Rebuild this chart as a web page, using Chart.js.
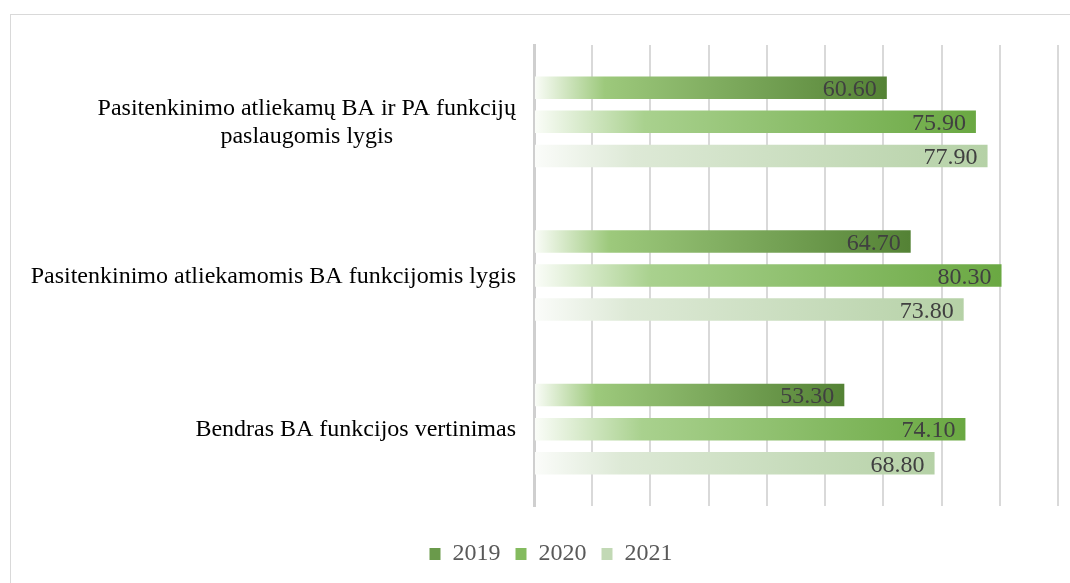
<!DOCTYPE html>
<html>
<head>
<meta charset="utf-8">
<script src="https://cdn.jsdelivr.net/npm/chart.js@4.4.0/dist/chart.umd.min.js"></script>
<style>
  html, body { margin: 0; padding: 0; background: #fff; overflow: hidden; }
  #frame { position: absolute; left: 10px; top: 14px; width: 1100px; height: 600px; border: 1px solid #d9d9d9; }
  #wrap { position: absolute; left: 11px; top: 15px; width: 1082px; height: 568px; }
</style>
</head>
<body>
<div id="frame"></div>
<div id="wrap"><canvas id="myChart"></canvas></div>
<script>
// categories, top to bottom
const categories = [
  ["Pasitenkinimo atliekamų BA ir PA funkcijų", "paslaugomis lygis"],
  "Pasitenkinimo atliekamomis BA funkcijomis lygis",
  "Bendras BA funkcijos vertinimas"
]
const years = ["2019", "2020", "2021"]
const values2019 = [60.6, 64.7, 53.3]
const values2020 = [75.9, 80.3, 74.1]
const values2021 = [77.9, 73.8, 68.8]

const serif = "'Liberation Serif', 'Times New Roman', serif"

// gradient stops per series (left -> right along each bar)
const stops2019 = [[0, "#fbfdf9"], [0.2, "#9dc97c"], [1, "#548235"]]
const stops2020 = [[0, "#fbfdf9"], [0.25, "#a9d18e"], [1, "#6aa842"]]
const stops2021 = [[0, "#fbfcfa"], [0.22, "#dde9d6"], [1, "#b5d1a6"]]
const legendColors = ["#6a9a4b", "#84bb5f", "#c2d9b5"]

const barFill = (stops, legendColor) => (ctx) => {
  const chart = ctx.chart
  if (!chart.chartArea || ctx.type !== "data") return legendColor
  const x = chart.scales.x
  const x0 = x.getPixelForValue(0)
  const x1 = x.getPixelForValue(ctx.raw)
  const g = chart.ctx.createLinearGradient(x0, 0, x1, 0)
  stops.forEach(s => g.addColorStop(s[0], s[1]))
  return g
}

// value labels, inside end of each bar
const valueLabels = {
  id: "valueLabels",
  afterDatasetsDraw(chart) {
    const ctx = chart.ctx
    ctx.save()
    ctx.font = "24px " + serif
    ctx.fillStyle = "#404040"
    ctx.textAlign = "right"
    ctx.textBaseline = "middle"
    chart.data.datasets.forEach((ds, i) => {
      chart.getDatasetMeta(i).data.forEach((bar, j) => {
        ctx.fillText(ds.data[j].toFixed(2), bar.x - 10, bar.y + 2)
      })
    })
    ctx.restore()
  }
}

// category labels: block right aligned to the axis, lines centred inside the block
const categoryLabels = {
  id: "categoryLabels",
  afterDraw(chart) {
    const ctx = chart.ctx
    const yScale = chart.scales.y
    const right = chart.chartArea.left - 18
    const lineH = 28
    ctx.save()
    ctx.font = "24px " + serif
    ctx.fillStyle = "#000"
    ctx.textBaseline = "middle"
    ctx.textAlign = "center"
    categories.forEach((cat, i) => {
      const lines = Array.isArray(cat) ? cat : [cat]
      const w = Math.max(...lines.map(l => ctx.measureText(l).width))
      const cx = right - w / 2
      const cy = yScale.getPixelForValue(i) + 1
      lines.forEach((l, k) => {
        ctx.fillText(l, cx, cy + (k - (lines.length - 1) / 2) * lineH)
      })
    })
    ctx.restore()
  }
}

new Chart("myChart", {
  type: "bar",
  data: {
    labels: categories,
    datasets: [
      { label: years[0], data: values2019, backgroundColor: barFill(stops2019, legendColors[0]) },
      { label: years[1], data: values2020, backgroundColor: barFill(stops2020, legendColors[1]) },
      { label: years[2], data: values2021, backgroundColor: barFill(stops2021, legendColors[2]) }
    ]
  },
  options: {
    indexAxis: "y",
    responsive: true,
    maintainAspectRatio: false,
    animation: false,
    categoryPercentage: 0.665,
    barPercentage: 0.66,
    layout: { padding: { left: 33, right: 35, top: 30, bottom: 7 } },
    scales: {
      x: {
        min: 0,
        max: 90,
        ticks: { display: false, stepSize: 10 },
        grid: { color: "#d9d9d9", lineWidth: 2, drawTicks: false },
        border: { display: false },
        afterFit(scale) { scale.height = 21 }
      },
      y: {
        ticks: { display: false },
        grid: { display: false },
        border: { display: true, color: "#cfcfcf", width: 3 },
        afterFit(scale) { scale.width = 490 }
      }
    },
    plugins: {
      legend: {
        position: "bottom",
        labels: {
          font: { family: serif, size: 24 },
          color: "#595959",
          boxWidth: 11,
          boxHeight: 12,
          padding: 15,
          generateLabels(chart) {
            const items = Chart.defaults.plugins.legend.labels.generateLabels(chart)
            items.forEach((it, i) => {
              it.fillStyle = legendColors[i]
              it.strokeStyle = legendColors[i]
              it.lineWidth = 0
            })
            return items
          }
        }
      },
      tooltip: { enabled: false }
    }
  },
  plugins: [valueLabels, categoryLabels]
})
</script>
</body>
</html>
